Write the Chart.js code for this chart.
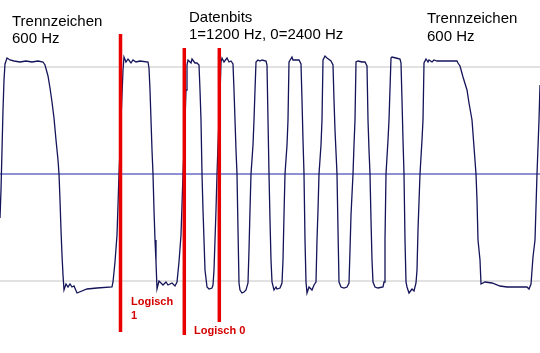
<!DOCTYPE html>
<html>
<head>
<meta charset="utf-8">
<script src="https://cdn.jsdelivr.net/npm/chart.js@4.4.1/dist/chart.umd.min.js"></script>
<style>
  html, body { margin: 0; padding: 0; background: #fff; }
  canvas { display: block; }
</style>
</head>
<body>
<canvas id="chart" width="540" height="353"></canvas>
<script>
// FSK signal trace: time (arbitrary units) vs amplitude (arbitrary units)
const waveSamples = [
  [0,-44],[1,-16],[2,24],[3,64],[4,94],[5,110],[7,116],[10,114],[14,113],[20,112],[26,113],[32,112],[38,113],[43,112],
  [45,109],[48,98],[50,86],[52,72],[54,56],[56,34],[58,14],[59,0],[60,-26],[61,-56],[62,-81],[63,-101],[64,-116],
  [66,-110],[68,-113],[70,-110],[72,-113],[74,-112],[77,-119],[87,-115],[97,-114],[112,-113],[113,-108],
  [115,-88],[117,-61],[118,-31],[119,0],[120,24],[121,54],[122,79],[123,104],[124,117],[126,112],[128,115],
  [131,111],[133,114],[136,112],[140,113],[148,112],[149,106],[150,84],[151,54],[152,24],[153,0],[154,-36],
  [155,-66],[156,-88],[157,-115],[159,-107],[163,-111],[166,-108],[168,-111],[172,-109],[175,-112],[177,-108],
  [179,-88],[181,-61],[182,-31],[183,0],[184,24],[185,54],[186,84],[187,109],[188,114],[191,111],[192,115],
  [195,111],[197,111],[199,109],[200,84],[201,54],[202,0],[203,-36],[204,-66],[205,-96],[207,-113],[209,-115],
  [212,-114],[213,-111],[214,-96],[215,-66],[216,-36],[217,0],[218,29],[219,54],[220,79],[221,112],[222,116],
  [224,112],[227,116],[229,112],[231,113],[233,110],[234,84],[235,54],[236,24],[237,0],[238,-56],[239,-109],
  [240,-116],[242,-119],[244,-118],[246,-116],[248,-109],[249,-76],[250,-36],[251,0],[253,29],[254,54],[255,84],
  [256,112],[258,114],[260,113],[262,114],[266,113],[267,109],[268,54],[269,0],[270,-46],[271,-86],[272,-108],
  [274,-116],[276,-113],[277,-115],[280,-114],[282,-109],[283,-86],[284,-41],[285,0],[287,29],[288,54],[289,112],
  [292,117],[293,114],[297,114],[299,114],[301,110],[302,74],[303,34],[304,0],[305,-66],[306,-108],[307,-119],
  [309,-113],[312,-116],[314,-111],[316,-108],[317,-66],[318,-36],[319,0],[321,29],[322,54],[323,114],[325,118],
  [327,116],[331,113],[333,109],[334,74],[335,44],[337,0],[338,-56],[339,-108],[341,-113],[344,-114],[347,-113],
  [349,-109],[350,-76],[351,-41],[353,0],[354,29],[355,54],[356,112],[358,113],[362,112],[365,112],[367,108],
  [368,54],[369,24],[370,0],[371,-46],[372,-86],[373,-108],[375,-113],[378,-114],[383,-113],[384,-108],[385,-66],
  [386,0],[388,34],[389,54],[391,116],[392,117],[396,116],[400,115],[401,111],[402,74],[403,34],[404,0],[405,-66],
  [406,-108],[407,-113],[409,-119],[412,-115],[414,-117],[416,-109],[417,-96],[418,-56],[420,0],[422,34],[423,54],
  [424,111],[426,115],[428,112],[429,114],[432,112],[434,114],[437,113],[445,113],[457,113],[458,111],[460,108],
  [463,97],[467,84],[469,71],[472,54],[474,27],[476,0],[477,-26],[478,-66],[480,-86],[481,-110],[485,-108],
  [492,-109],[500,-112],[507,-113],[517,-113],[523,-113],[527,-113],[529,-115],[531,-110],[533,-83],[535,-66],
  [537,0],[538,27],[539,54],[540,89],
];

const timeRange = [0, 540];
const ampRange = [-179, 174];

// reference levels: upper / lower limit (grey) and zero line (blue)
const limitLevels = [107, -107];
const zeroLevel = 0;

// red bit markers
const markerTimes = [120.5, 184.3, 219.3];
const markerTops = [140, 126, 126];
const markerBottoms = [-158, -161, -148];

// captions: [text, time, amplitude]
const headerLabels = [
  ['Trennzeichen', 12, 148], ['600 Hz', 12, 131],
  ['Datenbits', 189, 152], ['1=1200 Hz, 0=2400 Hz', 189, 135],
  ['Trennzeichen', 427, 151], ['600 Hz', 427, 133],
];
const markerLabels = [
  ['Logisch', 131, -131], ['1', 131, -145],
  ['Logisch 0', 194, -160],
];

function hLine(level) {
  return [{ x: timeRange[0], y: level }, { x: timeRange[1], y: level }];
}

const datasets = [];

markerTimes.forEach((t, i) => {
  datasets.push({
    data: [{ x: t, y: markerTops[i] }, { x: t, y: markerBottoms[i] }],
    borderColor: '#e80000',
    borderWidth: 3.5,
    borderCapStyle: 'butt',
    order: 0,
  });
});

datasets.push({
  data: waveSamples.map(([x, y]) => ({ x, y })),
  borderColor: '#14145a',
  borderWidth: 1.3,
  order: 1,
});

datasets.push({
  data: hLine(zeroLevel),
  borderColor: '#2020a8',
  borderWidth: 1,
  order: 2,
});

limitLevels.forEach((lvl) => {
  datasets.push({
    data: hLine(lvl),
    borderColor: '#c4c4c4',
    borderWidth: 1,
    order: 3,
  });
});

const captionPlugin = {
  id: 'captions',
  afterDatasetsDraw(chart) {
    const { ctx, scales } = chart;
    ctx.save();
    ctx.textAlign = 'left';
    ctx.textBaseline = 'alphabetic';
    ctx.fillStyle = '#000';
    ctx.font = '15px "Liberation Sans", Arial, sans-serif';
    headerLabels.forEach(([text, t, v]) => {
      ctx.fillText(text, scales.x.getPixelForValue(t), scales.y.getPixelForValue(v));
    });
    ctx.fillStyle = '#d40000';
    ctx.font = 'bold 11px "Liberation Sans", Arial, sans-serif';
    markerLabels.forEach(([text, t, v]) => {
      ctx.fillText(text, scales.x.getPixelForValue(t), scales.y.getPixelForValue(v));
    });
    ctx.restore();
  },
};

new Chart(document.getElementById('chart').getContext('2d'), {
  type: 'line',
  data: { datasets },
  options: {
    responsive: false,
    animation: false,
    devicePixelRatio: 1,
    layout: { padding: 0 },
    elements: {
      point: { radius: 0 },
      line: { tension: 0, fill: false },
    },
    plugins: {
      legend: { display: false },
      tooltip: { enabled: false },
    },
    scales: {
      x: { type: 'linear', min: timeRange[0], max: timeRange[1], display: false },
      y: { type: 'linear', min: ampRange[0], max: ampRange[1], display: false },
    },
  },
  plugins: [captionPlugin],
});
</script>
</body>
</html>
